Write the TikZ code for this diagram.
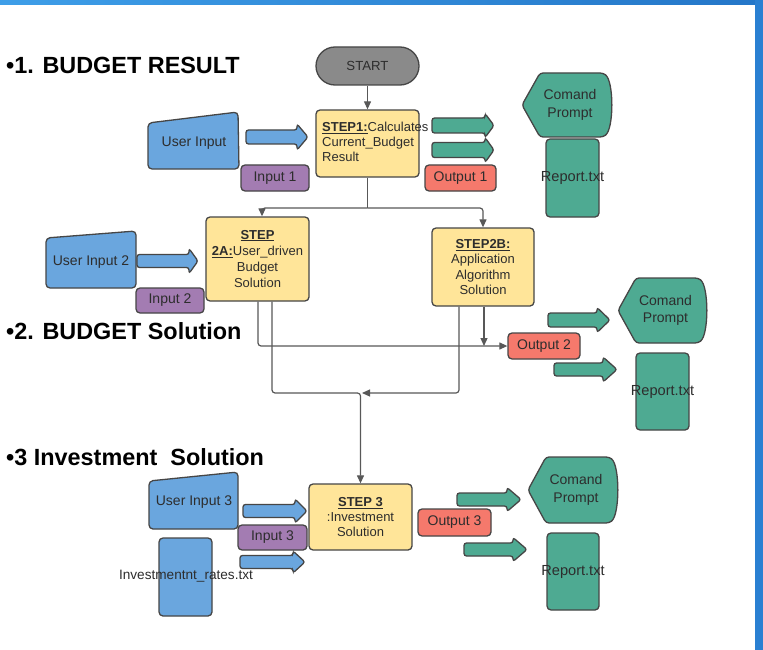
\documentclass[tikz,border=0pt]{standalone}
\usepackage{fontspec}
\setmainfont{Liberation Sans}
\usetikzlibrary{arrows.meta,calc}
\definecolor{bluef}{RGB}{106,166,222}
\definecolor{purplef}{RGB}{163,124,178}
\definecolor{redf}{RGB}{245,121,108}
\definecolor{yellowf}{RGB}{255,229,153}
\definecolor{greenf}{RGB}{78,170,146}
\definecolor{grayf}{RGB}{138,138,138}
\definecolor{edgec}{RGB}{70,70,70}
\definecolor{txtc}{RGB}{45,45,45}
\definecolor{connc}{RGB}{88,88,88}
\definecolor{barL}{RGB}{62,158,232}
\definecolor{barR}{RGB}{36,118,200}
\definecolor{barS}{RGB}{42,128,210}

% block arrow: fill, x start, x head base, x tip, y centre, shaft half, head half
\newcommand\blkarrow[7]{%
  \draw[draw=edgec, line width=1.3pt, fill=#1, rounded corners=2.5pt]
    (#2,#5-#6) -- (#3,#5-#6) -- (#3,#5-#7) -- (#4,#5) -- (#3,#5+#7)
    -- (#3,#5+#6) -- (#2,#5+#6) -- cycle;}
% command prompt display shape: name, x1, y1, x2, y2
\newcommand\cmdshape[5]{%
  \draw[draw=edgec, line width=1.3pt, fill=greenf, rounded corners=3pt]
    (#2+18,#3) -- (#4-9,#3) .. controls (#4+2,#3+8) and (#4+2,#5-8) .. (#4-9,#5)
    -- (#2+18,#5) -- (#2,{(#3+#5)/2}) -- cycle;
  \node[txtn, font=\fontsize{14}{17.5}\selectfont] (#1) at ({(#2+#4)/2+3},{(#3+#5)/2}) {Comand\\Prompt};}

\begin{document}
\begin{tikzpicture}[x=1pt,y=-1pt,
  box/.style={draw=edgec, line width=1.3pt, rounded corners=4pt, inner sep=0pt,
    text=txtc, font=\fontsize{14}{16}\selectfont, align=center},
  txtn/.style={inner sep=0pt, text=txtc, font=\fontsize{14}{16}\selectfont, align=center},
  title/.style={inner sep=0pt, anchor=base west, text=black,
    font=\bfseries\fontsize{23.4}{27}\selectfont},
  conn/.style={draw=connc, line width=1.2pt, -{Triangle[length=8pt,width=7pt]}},
  connl/.style={draw=connc, line width=1.2pt},
  ushape/.style={draw=edgec, line width=1.3pt, fill=bluef, rounded corners=4pt}]
\useasboundingbox (0,0) rectangle (763,650);
\fill[white] (0,0) rectangle (763,650);
\shade[left color=barL, right color=barR] (0,0) rectangle (763,5);
\fill[barS] (755,0) rectangle (763,650);

% titles
\node[title] (t1) at (6,74) {•1. BUDGET RESULT};
\node[title] (t2) at (6,339) {•2. BUDGET Solution};
\node[title] (t3) at (6,465) {•3 Investment\ \ Solution};

% ---------- section 1 ----------
\node[box, fill=grayf, minimum width=103pt, minimum height=38pt, rounded corners=19pt, font=\fontsize{13.2}{15}\selectfont] (start) at (367.5,66) {START};
\draw[ushape] (148,123) -- (238,112) -- (239,169) -- (148,169) -- cycle;
\node[txtn] (u1) at (194,143) {User Input};
\blkarrow{bluef}{246}{297}{308}{137}{7}{13}
\node[box, fill=purplef, minimum width=68pt, minimum height=26pt] (i1) at (275,178) {Input 1};
\node[box, fill=yellowf, minimum width=103pt, minimum height=67pt] (s1) at (367.5,143.5) {};
\blkarrow{greenf}{432}{485}{494}{125.5}{7.5}{12}
\blkarrow{greenf}{432}{485}{494}{150}{7.5}{12.5}
\node[box, fill=redf, minimum width=71pt, minimum height=26pt] (o1) at (460.5,178) {Output 1};
\node[txtn, anchor=west, align=left, font=\fontsize{13}{15}\selectfont] (s1t) at (322,142)
  {\underline{\textbf{STEP1:}}Calculates\\Current\_Budget\\Result};
\cmdshape{cp1}{522}{73}{612}{137}
\node[box, fill=greenf, minimum width=53pt, minimum height=78pt] (r1) at (572.5,178) {};
\node[txtn, font=\fontsize{14.6}{16}\selectfont] (r1t) at (r1) {Report.txt};

% ---------- section 2 ----------
\draw[ushape] (46,238) -- (136,231) -- (136,288) -- (46,288) -- cycle;
\node[txtn] (u2) at (91,262) {User Input 2};
\blkarrow{bluef}{137}{189}{198}{261}{6.5}{12.5}
\node[box, fill=purplef, minimum width=68pt, minimum height=25pt] (i2) at (170,300.5) {Input 2};
\node[box, fill=yellowf, minimum width=103pt, minimum height=84pt, font=\fontsize{13}{16.3}\selectfont] (s2a) at (257.5,259)
  {\underline{\textbf{STEP}}\\\underline{\textbf{2A:}}User\_driven\\Budget\\Solution};
\node[box, fill=yellowf, minimum width=102pt, minimum height=78pt, font=\fontsize{13}{15.3}\selectfont] (s2b) at (483,267)
  {\underline{\textbf{STEP2B:}}\\Application\\Algorithm\\Solution};
\node[box, fill=redf, minimum width=72pt, minimum height=26pt] (o2) at (544,346) {Output 2};
\blkarrow{greenf}{548}{597}{610}{320}{7}{12.5}
\blkarrow{greenf}{554}{603}{617}{369.5}{6.5}{12.5}
\cmdshape{cp2}{618}{278}{707}{343}
\node[box, fill=greenf, minimum width=53pt, minimum height=77pt] (r2) at (662.5,391.5) {};
\node[txtn, font=\fontsize{14.6}{16}\selectfont] (r2t) at (r2) {Report.txt};

% ---------- section 3 ----------
\draw[ushape] (149,481) -- (238,472) -- (238,529) -- (149,529) -- cycle;
\node[txtn] (u3) at (194,502) {User Input 3};
\node[box, fill=bluef, minimum width=53pt, minimum height=78pt] (inv) at (185.5,577) {};
\node[txtn, font=\fontsize{13.6}{16}\selectfont] (invt) at (186,576) {Investmentnt\_rates.txt};
\blkarrow{bluef}{243}{295}{307}{511}{6.5}{12}
\blkarrow{bluef}{240}{293}{305}{562}{6.5}{11}
\node[box, fill=purplef, minimum width=69pt, minimum height=25pt] (i3) at (272.5,537.5) {Input 3};
\node[box, fill=yellowf, minimum width=103pt, minimum height=66pt, font=\fontsize{13}{15}\selectfont] (s3) at (360.5,517)
  {\underline{\textbf{STEP 3}}\\:Investment\\Solution};
\blkarrow{greenf}{457}{507}{521}{499.5}{6.5}{12}
\blkarrow{greenf}{464}{513}{527}{549.5}{6.5}{12}
\node[box, fill=redf, minimum width=73pt, minimum height=27pt] (o3) at (454.5,522.5) {Output 3};
\cmdshape{cp3}{528}{457}{618}{523}
\node[box, fill=greenf, minimum width=52pt, minimum height=77pt] (r3) at (573,571.5) {};
\node[txtn, font=\fontsize{14.6}{16}\selectfont] (r3t) at (r3) {Report.txt};

% ---------- connectors ----------
\draw[conn] (start.south) -- (s1.north);
\coordinate (split) at (367.5,208);
\draw[connl] (s1.south) -- (split);
\draw[conn, rounded corners=3pt] (split) -| ([xshift=4.5pt]s2a.north);
\draw[conn, rounded corners=3pt] (split) -| (s2b.north);

\coordinate (a1) at ([xshift=0.5pt]s2a.south);
\coordinate (a2) at ([xshift=14.5pt]s2a.south);
\coordinate (b1) at ([xshift=-24pt]s2b.south);
\coordinate (b2) at ([xshift=1pt]s2b.south);
\coordinate (m) at (360.5,393);
\draw[conn, rounded corners=3pt] (a1) |- (o2.west);
\draw[conn] (b2) -- (b2 |- o2.west);
\draw[conn, rounded corners=3pt] (a2) |- (m) -- (s3.north);
\draw[conn, rounded corners=3pt] (b1) |- ([xshift=1.5pt]m);
\end{tikzpicture}
\end{document}
